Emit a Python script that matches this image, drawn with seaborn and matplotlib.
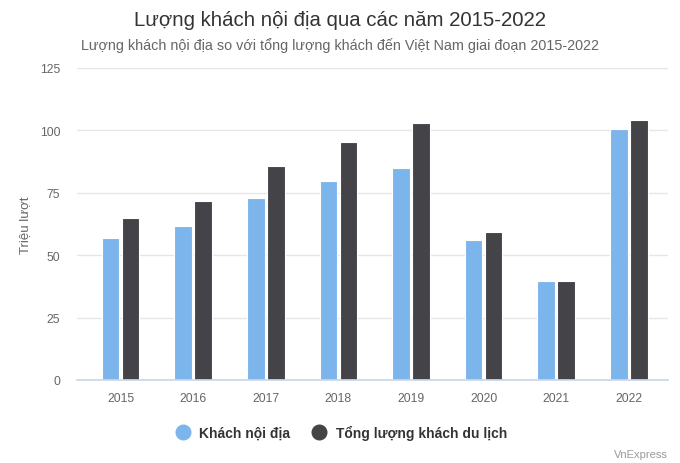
import pandas as pd
import seaborn as sns
import matplotlib.pyplot as plt
from matplotlib.lines import Line2D

years = ["2015", "2016", "2017", "2018", "2019", "2020", "2021", "2022"]
khach_noi_dia = [57, 61.6, 72.8, 79.7, 85, 56, 39.7, 100.6]
tong_luong_khach = [65, 71.8, 85.7, 95.5, 103, 59.2, 39.7, 104.3]
series_names = ["Khách nội địa", "Tổng lượng khách du lịch"]
colors = ["#7cb5ec", "#434348"]

df = pd.DataFrame({
    "year": years * 2,
    "value": khach_noi_dia + tong_luong_khach,
    "series": [series_names[0]] * len(years) + [series_names[1]] * len(years),
})

sns.set_theme(style="white")
plt.rcParams["font.family"] = ["Liberation Sans", "DejaVu Sans"]

fig = plt.figure(figsize=(6.8, 4.64), dpi=100)
ax = fig.add_axes([77 / 680, 1 - 381 / 464, (668 - 77) / 680, (381 - 69) / 464])

sns.barplot(
    data=df, x="year", y="value", hue="series",
    palette=colors, saturation=1, width=0.55, gap=0.12,
    edgecolor="white", linewidth=0.8,
    ax=ax, legend=False,
)

ax.set_ylim(0, 125)
ax.set_xlim(-0.6, 7.54)
ax.set_yticks([0, 25, 50, 75, 100, 125])
ax.yaxis.grid(True, color="#e6e6e6", linewidth=1)
ax.set_axisbelow(True)
for side in ["top", "right", "left"]:
    ax.spines[side].set_visible(False)
ax.spines["bottom"].set_color("#ccd6eb")
ax.tick_params(axis="both", length=0, labelsize=8.8, colors="#666666")
ax.tick_params(axis="x", pad=9)
ax.tick_params(axis="y", pad=12)
ax.set_xlabel("")
ax.set_ylabel("Triệu lượt", fontsize=9.5, color="#666666", labelpad=6)

fig.text(0.5, 1 - 20 / 464, "Lượng khách nội địa qua các năm 2015-2022",
         ha="center", va="center", fontsize=14.7, color="#333333")
fig.text(0.5, 1 - 46 / 464,
         "Lượng khách nội địa so với tổng lượng khách đến Việt Nam giai đoạn 2015-2022",
         ha="center", va="center", fontsize=10.4, color="#666666")

handles = [Line2D([], [], marker="o", linestyle="", markersize=10.5,
                  markerfacecolor=c, markeredgecolor=c) for c in colors]
fig.legend(handles, series_names, loc="center", bbox_to_anchor=(0.497, 1 - 433 / 464),
           ncol=2, frameon=False, prop={"weight": "bold", "size": 10},
           labelcolor="#333333", handletextpad=0.2, columnspacing=1.1)

fig.text(668 / 680, 1 - 455 / 464, "VnExpress", ha="right", va="center",
         fontsize=8, color="#999999")

fig.savefig("out.png", dpi=100)
